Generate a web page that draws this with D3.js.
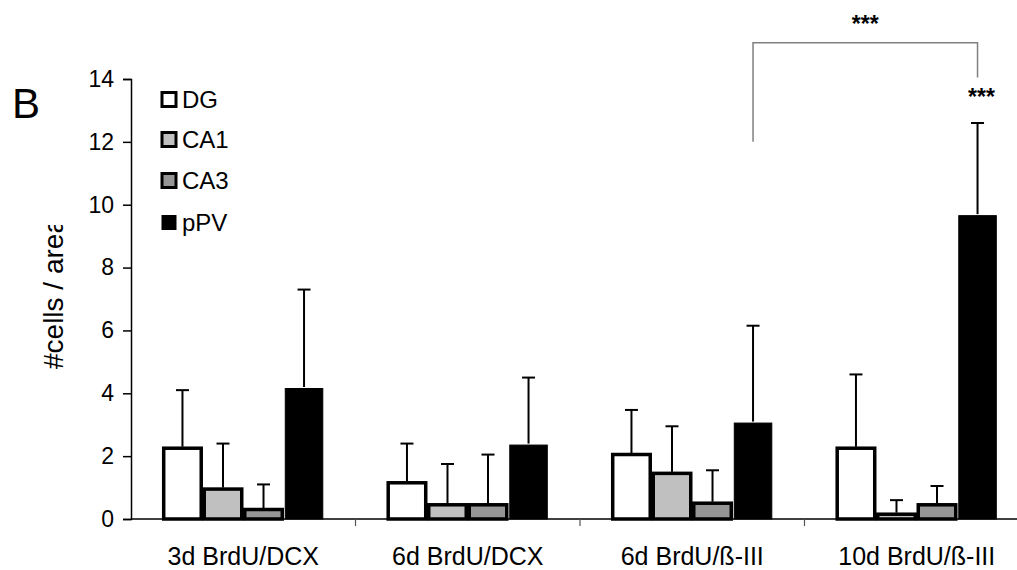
<!DOCTYPE html>
<html>
<head>
<meta charset="utf-8">
<script src="https://cdn.jsdelivr.net/npm/d3@7"></script>
<style>
  body { margin: 0; background: #fff; }
  svg { font-family: "Liberation Sans", Arial, sans-serif; }
</style>
</head>
<body>
<script>
/********************************************************/
// data
const categories = ["3d BrdU/DCX", "6d BrdU/DCX", "6d BrdU/\u00DF-III", "10d BrdU/\u00DF-III"];
const seriesNames = ["DG", "CA1", "CA3", "pPV"];
const seriesColors = ["#ffffff", "#c0c0c0", "#969696", "#000000"];
const meanDG  = [2.3, 1.2, 2.1, 2.3];
const meanCA1 = [1.0, 0.5, 1.5, 0.2];
const meanCA3 = [0.35, 0.5, 0.55, 0.5];
const meanPPV = [4.2, 2.4, 3.1, 9.7];
const errDG  = [4.1, 2.4, 3.47, 4.6];
const errCA1 = [2.4, 1.75, 2.95, 0.6];
const errCA3 = [1.1, 2.05, 1.55, 1.05];
const errPPV = [7.3, 4.5, 6.15, 12.6];
const yTicks = [0, 2, 4, 6, 8, 10, 12, 14];
// significance bracket: from pPV of group 3 to pPV of group 4
const bracketLeftLow = 12, bracketRightLow = 14.05, bracketTop = 15.15;

/********************************************************/
const svgWidth = 1017;
const svgHeight = 570;
const axisLeft = 131;
const axisRight = 1029;   // runs past the right edge like the original
const yBottom = 519;
const yTop = 79;

const svg = d3.select("body")
  .append("svg")
  .attr("width", svgWidth)
  .attr("height", svgHeight);

/************** scales ************/
const x0 = d3.scaleBand()
  .domain(categories)
  .range([axisLeft, axisRight])
  .paddingInner(0.278)
  .paddingOuter(0.139);

const x1 = d3.scaleBand()
  .domain(seriesNames)
  .range([0, x0.bandwidth()]);

const y = d3.scaleLinear().domain([0, 14]).range([yBottom, yTop]);

const means = [meanDG, meanCA1, meanCA3, meanPPV];
const errs = [errDG, errCA1, errCA3, errPPV];

const rows = [];
categories.forEach((c, i) => {
  seriesNames.forEach((s, j) => {
    rows.push({ cat: c, series: s, color: seriesColors[j], mean: means[j][i], err: errs[j][i] });
  });
});

const barCenter = d => x0(d.cat) + x1(d.series) + x1.bandwidth() / 2;

/************** error bars (behind the bars) ************/
const errG = svg.append("g");
errG.selectAll("line.stem")
  .data(rows)
  .enter()
  .append("line")
  .attr("x1", barCenter)
  .attr("x2", barCenter)
  .attr("y1", d => y(d.mean))
  .attr("y2", d => y(d.err))
  .attr("stroke", "#000")
  .attr("stroke-width", 2);

errG.selectAll("line.cap")
  .data(rows)
  .enter()
  .append("line")
  .attr("x1", d => barCenter(d) - 6.5)
  .attr("x2", d => barCenter(d) + 6.5)
  .attr("y1", d => y(d.err))
  .attr("y2", d => y(d.err))
  .attr("stroke", "#000")
  .attr("stroke-width", 2);

/************** bars ************/
svg.append("g")
  .selectAll("rect")
  .data(rows)
  .enter()
  .append("rect")
  .attr("x", d => x0(d.cat) + x1(d.series) + 1.5)
  .attr("width", x1.bandwidth() - 3)
  .attr("y", d => y(d.mean) + 1.5)
  .attr("height", d => Math.max(0, y(0) - y(d.mean) - 1.5))
  .attr("fill", d => d.color)
  .attr("stroke", "#000")
  .attr("stroke-width", d => d.series === "pPV" ? 1 : 3.5);

/************** axes ************/
const leftAxis = d3.axisLeft(y).tickValues(yTicks).tickSize(8).tickPadding(9);
const gy = svg.append("g")
  .attr("transform", `translate(${axisLeft},0)`)
  .call(leftAxis);
gy.selectAll("text")
  .attr("font-size", "23px")
  .attr("fill", "#000")
  .attr("font-family", "Liberation Sans, Arial, sans-serif");
gy.selectAll("line, path").attr("stroke", "#000").attr("stroke-width", 1.5);

const xg = svg.append("g");
xg.append("line")
  .attr("x1", axisLeft).attr("x2", axisRight)
  .attr("y1", yBottom).attr("y2", yBottom)
  .attr("stroke", "#000").attr("stroke-width", 1.5);
// tick marks between categories
const gapHalf = (x0.step() - x0.bandwidth()) / 2;
xg.selectAll("line.tick")
  .data(categories.slice(1))
  .enter()
  .append("line")
  .attr("x1", d => x0(d) - gapHalf)
  .attr("x2", d => x0(d) - gapHalf)
  .attr("y1", yBottom).attr("y2", yBottom + 7)
  .attr("stroke", "#555").attr("stroke-width", 1.2);
xg.selectAll("text")
  .data(categories)
  .enter()
  .append("text")
  .attr("x", d => x0(d) + x0.bandwidth() / 2)
  .attr("y", 565)
  .attr("text-anchor", "middle")
  .attr("font-size", "25px")
  .text(d => d);

/************** y label, clipped like the original ************/
svg.append("clipPath").attr("id", "ylabclip")
  .append("rect").attr("x", 0).attr("y", 225).attr("width", 120).attr("height", 200);
svg.append("g")
  .attr("clip-path", "url(#ylabclip)")
  .append("text")
  .attr("transform", "translate(63,369) rotate(-90)")
  .attr("font-size", "28px")
  .text("#cells / area");

/************** panel letter ************/
svg.append("text")
  .attr("x", 12).attr("y", 118)
  .attr("font-size", "42px")
  .text("B");

/************** legend ************/
const legendY = [100, 140, 181, 223];
const legend = svg.append("g");
seriesNames.forEach((s, j) => {
  legend.append("rect")
    .attr("x", 162).attr("y", legendY[j] - 7.5)
    .attr("width", 14).attr("height", 14)
    .attr("fill", seriesColors[j])
    .attr("stroke", "#000")
    .attr("stroke-width", j === 3 ? 1 : 3);
  legend.append("text")
    .attr("x", 182).attr("y", legendY[j] + 8)
    .attr("font-size", "24px")
    .text(s);
});

/************** significance ************/
const xL = x0(categories[2]) + x1("pPV") + x1.bandwidth() / 2;
const xR = x0(categories[3]) + x1("pPV") + x1.bandwidth() / 2;
svg.append("path")
  .attr("d", `M${xL},${y(bracketLeftLow)} V${y(bracketTop)} H${xR} V${y(bracketRightLow)}`)
  .attr("fill", "none")
  .attr("stroke", "#808080")
  .attr("stroke-width", 1.5);
svg.append("text")
  .attr("x", (xL + xR) / 2).attr("y", 32)
  .attr("text-anchor", "middle")
  .attr("font-size", "23px").attr("font-weight", "bold")
  .text("***");
svg.append("text")
  .attr("x", xR + 4).attr("y", 105)
  .attr("text-anchor", "middle")
  .attr("font-size", "23px").attr("font-weight", "bold")
  .text("***");
</script>
</body>
</html>
